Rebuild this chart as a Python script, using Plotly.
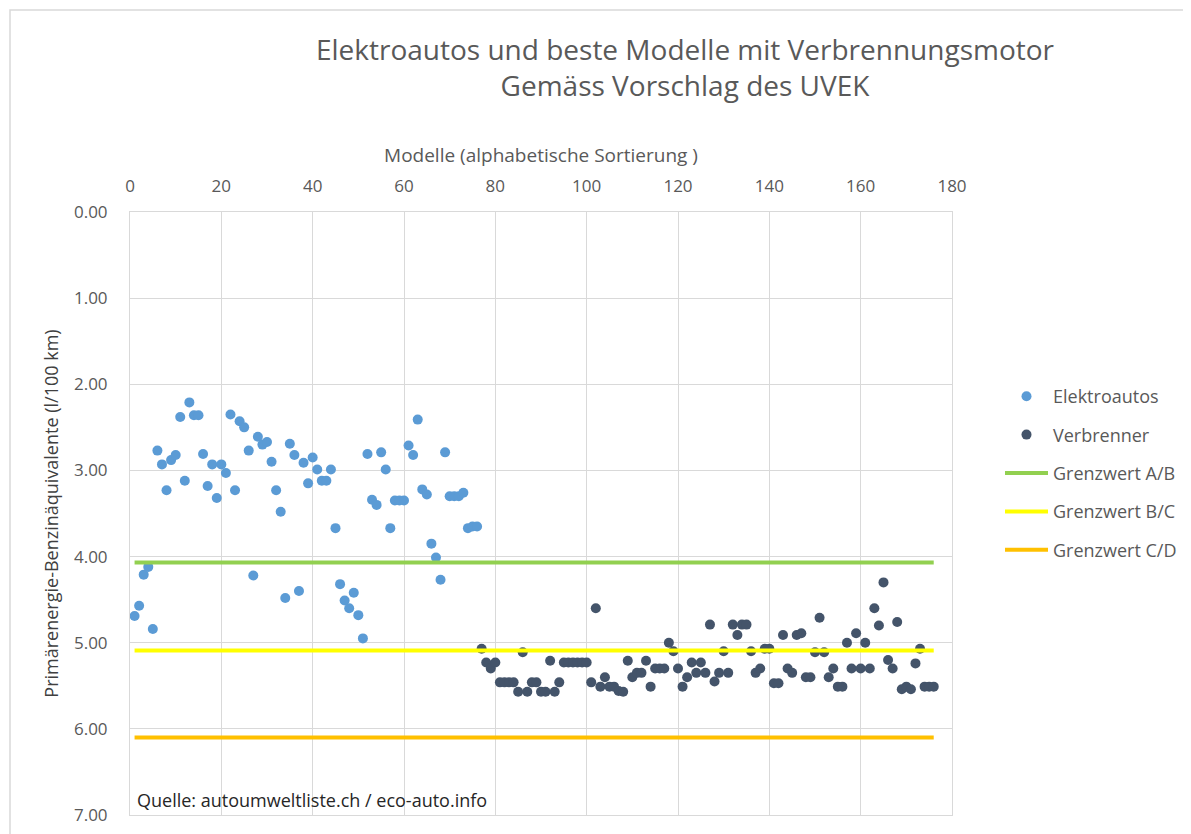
import plotly.graph_objects as go

# ---------------- data ----------------
elektro_values = [
    4.69, 4.57, 4.21, 4.12, 4.84, 2.77, 2.93, 3.23, 2.88, 2.82,
    2.38, 3.12, 2.21, 2.36, 2.36, 2.81, 3.18, 2.93, 3.32, 2.93,
    3.03, 2.35, 3.23, 2.43, 2.50, 2.77, 4.22, 2.61, 2.70, 2.67,
    2.90, 3.23, 3.48, 4.48, 2.69, 2.82, 4.40, 2.91, 3.15, 2.85,
    2.99, 3.12, 3.12, 2.99, 3.67, 4.32, 4.51, 4.60, 4.42, 4.68,
    4.95, 2.81, 3.34, 3.40, 2.79, 2.99, 3.67, 3.35, 3.35, 3.35,
    2.71, 2.82, 2.41, 3.22, 3.28, 3.85, 4.01, 4.27, 2.79, 3.30,
    3.30, 3.30, 3.26, 3.67, 3.65, 3.65,
]
elektro_models = list(range(1, len(elektro_values) + 1))

verbrenner_values = [
    5.07, 5.23, 5.30, 5.23, 5.46, 5.46, 5.46, 5.46, 5.57, 5.11,
    5.57, 5.46, 5.46, 5.57, 5.57, 5.21, 5.57, 5.46, 5.23, 5.23,
    5.23, 5.23, 5.23, 5.23, 5.46, 4.60, 5.51, 5.40, 5.51, 5.51,
    5.56, 5.57, 5.21, 5.40, 5.35, 5.35, 5.21, 5.51, 5.30, 5.30,
    5.30, 5.00, 5.10, 5.30, 5.51, 5.40, 5.23, 5.35, 5.23, 5.35,
    4.79, 5.45, 5.35, 5.10, 5.35, 4.79, 4.91, 4.79, 4.79, 5.10,
    5.35, 5.30, 5.07, 5.07, 5.47, 5.47, 4.91, 5.30, 5.35, 4.91,
    4.89, 5.40, 5.40, 5.11, 4.71, 5.11, 5.40, 5.30, 5.51, 5.51,
    5.00, 5.30, 4.89, 5.30, 5.00, 5.30, 4.60, 4.80, 4.30, 5.20,
    5.30, 4.76, 5.54, 5.51, 5.54, 5.24, 5.07, 5.51, 5.51, 5.51,
]
verbrenner_models = list(range(len(elektro_values) + 1,
                               len(elektro_values) + len(verbrenner_values) + 1))

grenz_names = ["Grenzwert A/B", "Grenzwert B/C", "Grenzwert C/D"]
grenz_values = [4.07, 5.09, 6.10]
grenz_colors = ["#92D050", "#FFFF00", "#FFC000"]
grenz_x = [1, 176]

x_ticks = [0, 20, 40, 60, 80, 100, 120, 140, 160, 180]
y_ticks = [0, 1, 2, 3, 4, 5, 6, 7]

FONT = "Open Sans"
GREY = "#595959"

fig = go.Figure()
fig.add_trace(go.Scatter(
    x=elektro_models, y=elektro_values, mode="markers", name="Elektroautos",
    marker=dict(color="#5B9BD5", size=10), legendgroup="a",
))
fig.add_trace(go.Scatter(
    x=verbrenner_models, y=verbrenner_values, mode="markers", name="Verbrenner",
    marker=dict(color="#44546A", size=10), legendgroup="b",
))
for i, (n, v, c) in enumerate(zip(grenz_names, grenz_values, grenz_colors)):
    fig.add_trace(go.Scatter(
        x=grenz_x, y=[v, v], mode="lines", name=n,
        line=dict(color=c, width=4), legendgroup="g%d" % i,
    ))

# page is offset by the 8px body margin; work in figure pixels
OFF = 8
W, H = 1191, 834
ml, mt = 130 - OFF, 212 - OFF
pw, ph = 822, 603
mr = W - ml - pw
mb = H - mt - ph


def px2paper(px, py):
    # px, py in page coordinates of the reference
    fx, fy = px - OFF, py - OFF
    return (fx - ml) / pw, (H - mb - fy) / ph


x0, y0 = px2paper(10, 10)
x1, y1 = px2paper(1188, 900)

fig.update_layout(
    width=W, height=H,
    margin=dict(l=ml, r=mr, t=mt, b=mb, autoexpand=False),
    paper_bgcolor="white", plot_bgcolor="white",
    font=dict(family=FONT, color=GREY, size=18),
    title=dict(
        text="Elektroautos und beste Modelle mit Verbrennungsmotor<br>Gemäss Vorschlag des UVEK",
        x=(685 - OFF) / W, xanchor="center", xref="container",
        y=1 - 52 / H, yanchor="top", yref="container",
        font=dict(family=FONT, size=28, color=GREY),
    ),
    xaxis=dict(
        side="top", range=[0, 180], tickvals=x_ticks, showgrid=True,
        gridcolor="#D9D9D9", gridwidth=1, zeroline=False,
        showline=True, linecolor="#D9D9D9", mirror=True,
        tickfont=dict(size=17, color=GREY),
        ticks="outside", ticklen=6, tickcolor="rgba(0,0,0,0)", ticklabelstandoff=6,
        title=dict(text="Modelle (alphabetische Sortierung )",
                   font=dict(size=19, color=GREY), standoff=6),
        automargin=False,
    ),
    yaxis=dict(
        range=[7, 0], tickvals=y_ticks, tickformat=".2f", showgrid=True,
        gridcolor="#D9D9D9", gridwidth=1, zeroline=False,
        showline=True, linecolor="#D9D9D9", mirror=True,
        tickfont=dict(size=17, color=GREY), ticks="", ticklabelstandoff=18,
        title=dict(text="Primärenergie-Benzinäquivalente (l/100 km)",
                   font=dict(size=18, color="#404040"), standoff=10),
        automargin=False,
    ),
    legend=dict(
        x=(1000 - OFF - ml) / pw, y=px2paper(0, 378)[1], xanchor="left", yanchor="top",
        font=dict(size=18, color=GREY), tracegroupgap=12, itemwidth=43,
        bgcolor="rgba(0,0,0,0)",
    ),
    showlegend=True,
    shapes=[dict(type="rect", xref="paper", yref="paper",
                 x0=x0, y0=y1, x1=x1, y1=y0,
                 line=dict(color="#D9D9D9", width=1.5), layer="below")],
    annotations=[dict(
        text="Quelle: autoumweltliste.ch / eco-auto.info",
        xref="paper", yref="paper", x=px2paper(135, 0)[0], y=px2paper(0, 800)[1],
        xanchor="left", yanchor="middle", showarrow=False,
        font=dict(family=FONT, size=18, color="#262626"),
    )],
)

fig.write_html("out.html")
